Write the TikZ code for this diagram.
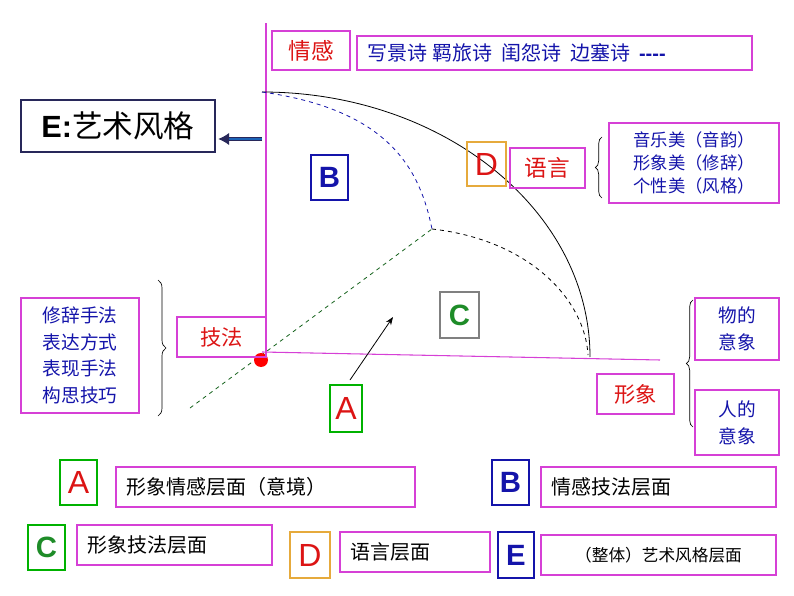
\documentclass[tikz,border=0pt]{standalone}
\usepackage{fontspec}
\setmainfont{Noto Sans CJK SC}
\newfontfamily\lat{Liberation Sans}
\usetikzlibrary{fit,arrows.meta,decorations.pathreplacing}
\definecolor{pk}{RGB}{214,64,214}
\definecolor{bl}{RGB}{20,20,170}
\definecolor{rd}{RGB}{220,20,20}
\definecolor{gr}{RGB}{30,140,40}
\definecolor{orng}{RGB}{230,170,60}
\definecolor{nv}{RGB}{40,40,90}
\tikzset{bx/.style={draw=pk,line width=1pt,inner sep=0pt},
 lt/.style={font=\lat\fontsize{24}{26}\selectfont}}
\newcommand\bxx[6]{\node[bx,#6,fit={(#2,#3)(#4,#5)}] (#1) {};}
\begin{document}
\begin{tikzpicture}[x=0.75pt,y=-0.75pt]
\useasboundingbox (0,0) rectangle (794,596);
% axes
\draw[pk,line width=0.8pt] (266,23) coordinate (vt) -- (266,355) coordinate (vb);
\draw[pk,line width=0.8pt] (262,352) coordinate (hl) -- (660,360) coordinate (hr);
\draw[gr!70!black,dashed,line width=0.6pt] (190,408) coordinate (g1) -- (432,229) coordinate (g2);
\draw[black,line width=0.6pt] (262,92) coordinate (top) arc[start angle=-90,end angle=0,x radius=328,y radius=265];
\draw[bl,dashed,line width=0.6pt] (top) .. controls (390,110) and (420,170) .. (g2);
\draw[black,dashed,line width=0.6pt] (g2) .. controls (530,240) and (585,300) .. (588,355);
\fill[red] (261,360) circle[radius=7];
\coordinate (a1) at (350,380); \coordinate (a2) at (393,317);
\draw[-{Stealth[length=6pt]},line width=0.6pt] (a1) -- (a2);
% top
\bxx{qg}{272}{31}{350}{70}{}
\node[text=rd,font=\fontsize{17}{19}\selectfont] at (qg) {情感};
\bxx{sh}{357}{36}{752}{70}{}
\node[text=bl,font=\fontsize{15}{17}\selectfont,anchor=west] at ([xshift=5pt]sh.west) {写景诗\ 羁旅诗\ \ 闺怨诗\ \ 边塞诗\ \ {\lat\bfseries ----}};
\bxx{E}{21}{100}{215}{152}{draw=nv}
\node[font=\fontsize{23}{25}\selectfont] at (E) {{\lat\bfseries E:}艺术风格};
\coordinate (ea) at (262,139);
\draw[-{Latex[length=8pt,width=9pt]},draw=nv,double=cyan!40!blue,double distance=2pt,line width=0.6pt] (ea) -- ([xshift=2pt]E.east|-ea);
\bxx{Bb}{311}{155}{348}{200}{draw=bl}
\node[text=bl,lt,font=\lat\bfseries\fontsize{22}{24}\selectfont] at (Bb) {B};
\bxx{Dd}{467}{142}{506}{186}{draw=orng}
\node[text=rd,lt] at (Dd) {D};
\bxx{yy}{510}{148}{585}{188}{}
\node[text=rd,font=\fontsize{17}{19}\selectfont] at (yy) {语言};
\draw[line width=0.5pt,decorate,decoration={brace,amplitude=5pt}] (602,198) -- (602,137);
\bxx{ml}{609}{123}{779}{203}{}
\node[text=bl,font=\fontsize{13}{17}\selectfont,align=left] at (ml) {音乐美（音韵）\\形象美（修辞）\\个性美（风格）};
\bxx{Cc}{440}{292}{479}{338}{draw=gray}
\node[text=gr,lt,font=\lat\bfseries\fontsize{22}{24}\selectfont] at (Cc) {C};
\bxx{jf}{177}{317}{266}{357}{}
\node[text=rd,font=\fontsize{16}{18}\selectfont] at (jf) {技法};
\bxx{xc}{21}{298}{139}{413}{}
\node[text=bl,font=\fontsize{14}{20}\selectfont,align=left] at (xc) {修辞手法\\表达方式\\表现手法\\构思技巧};
\draw[line width=0.5pt,decorate,decoration={brace,amplitude=6pt}] (158,280) -- (158,416);
\bxx{Aa}{330}{385}{362}{432}{draw=green!70!black}
\node[text=rd,lt] at (Aa) {A};
\bxx{xx}{597}{374}{674}{414}{}
\node[text=rd,font=\fontsize{16}{18}\selectfont] at (xx) {形象};
\draw[line width=0.5pt,decorate,decoration={brace,amplitude=5pt}] (693,427) -- (693,300);
\bxx{wd}{695}{298}{779}{360}{}
\node[text=bl,font=\fontsize{14}{20}\selectfont,align=left] at (wd) {物的\\意象};
\bxx{rd}{695}{390}{779}{455}{}
\node[text=bl,font=\fontsize{14}{20}\selectfont,align=left] at (rd) {人的\\意象};
% bottom legend
\bxx{LA}{60}{460}{97}{505}{draw=green!70!black}
\node[text=rd,lt] at (LA) {A};
\bxx{TA}{116}{467}{415}{507}{}
\node[font=\fontsize{15}{17}\selectfont,anchor=west] at ([xshift=5pt]TA.west) {形象情感层面（意境）};
\bxx{LB}{492}{460}{529}{505}{draw=bl}
\node[text=bl,font=\lat\bfseries\fontsize{22}{24}\selectfont] at (LB) {B};
\bxx{TB}{541}{467}{776}{507}{}
\node[font=\fontsize{15}{17}\selectfont,anchor=west] at ([xshift=5pt]TB.west) {情感技法层面};
\bxx{LC}{28}{525}{65}{570}{draw=green!70!black}
\node[text=gr,font=\lat\bfseries\fontsize{22}{24}\selectfont] at (LC) {C};
\bxx{TC}{77}{525}{272}{565}{}
\node[font=\fontsize{15}{17}\selectfont,anchor=west] at ([xshift=5pt]TC.west) {形象技法层面};
\bxx{LD}{290}{532}{330}{578}{draw=orng}
\node[text=rd,lt] at (LD) {D};
\bxx{TD}{340}{532}{490}{572}{}
\node[font=\fontsize{15}{17}\selectfont,anchor=west] at ([xshift=5pt]TD.west) {语言层面};
\bxx{LE}{498}{532}{534}{578}{draw=bl}
\node[text=bl,font=\lat\bfseries\fontsize{22}{24}\selectfont] at (LE) {E};
\bxx{TE}{541}{535}{776}{575}{}
\node[font=\fontsize{12.5}{15}\selectfont] at (TE) {（整体）艺术风格层面};
\end{tikzpicture}
\end{document}
